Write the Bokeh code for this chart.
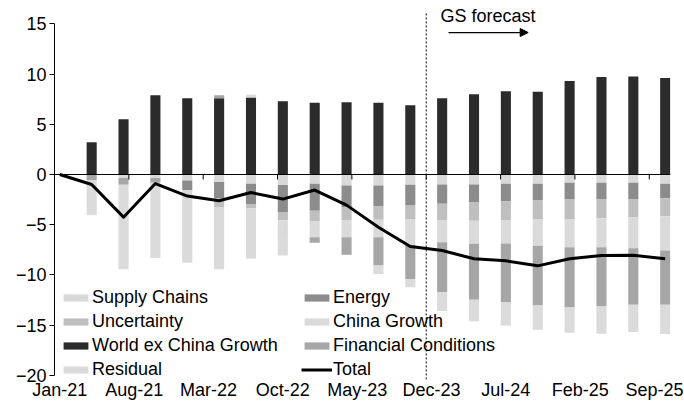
import pandas as pd
from bokeh.plotting import figure
from bokeh.models import (ColumnDataSource, FixedTicker, Span, Label, Arrow,
                          NormalHead, Legend, LegendItem)
from bokeh.embed import file_html
from bokeh.resources import INLINE

# ---------------- data ----------------
periods = ["Jan-21", "Apr-21", "Jul-21", "Oct-21", "Jan-22", "Apr-22", "Jul-22",
           "Oct-22", "Jan-23", "Apr-23", "Jul-23", "Oct-23", "Jan-24", "Apr-24",
           "Jul-24", "Oct-24", "Jan-25", "Apr-25", "Jul-25", "Oct-25"]

supply_chains = [0, 0, -0.35, -0.35, -0.6, -0.75, -0.93, -1.05, -0.93, -1.1,
                 -1.1, -1.03, -1.0, -1.0, -0.93, -0.93, -0.83, -0.83, -0.83, -0.93]
energy = [0, 0, 0, 0, -0.95, -1.65, -2.0, -2.68, -2.67, -2.2,
          -2.1, -2.0, -1.92, -1.8, -1.73, -1.66, -1.66, -1.66, -1.6, -1.43]
uncertainty = [0, 0, 0, 0, 0, -0.85, -0.43, -0.84, -1.08, -1.28,
               -1.3, -1.4, -1.66, -1.8, -1.92, -1.9, -1.99, -1.86, -1.83, -1.79]
china_growth = [0, 0, 0, 0, -7.25, -6.2, -5.0, -1.66, -1.56, -1.66,
                -1.74, -2.6, -2.18, -2.3, -2.3, -2.6, -2.76, -2.89, -3.08, -3.42]
world_ex_china = [0, 3.2, 5.5, 7.9, 7.6, 7.6, 7.67, 7.3, 7.15, 7.2,
                  7.15, 6.9, 7.6, 8.0, 8.3, 8.25, 9.3, 9.7, 9.75, 9.6]
financial_conditions = [0, -0.55, -0.68, -0.47, 0, 0.3, 0, 0, -0.56, -1.75,
                        -2.82, -3.38, -4.96, -5.57, -5.82, -5.97, -6.0, -5.87, -5.64, -5.41]
residual = [0, -3.5, -8.4, -7.5, 0, 0, 0.27, -1.84, 0, 0,
            -0.84, -0.83, -1.88, -2.16, -2.34, -2.4, -2.52, -2.76, -2.72, -2.92]
total = [0, -1.0, -4.25, -0.9, -2.15, -2.62, -1.8, -2.45, -1.55, -3.05,
         -5.25, -7.17, -7.57, -8.4, -8.6, -9.1, -8.4, -8.07, -8.05, -8.4]

tick_labels = ["Jan-21", "Aug-21", "Mar-22", "Oct-22", "May-23", "Dec-23",
               "Jul-24", "Feb-25", "Sep-25"]
forecast_start = "Dec-23"
y_ticks = [-20, -15, -10, -5, 0, 5, 10, 15]

series = [
    ("Supply Chains", supply_chains, "#d9d9d9"),
    ("Energy", energy, "#8c8c8c"),
    ("Uncertainty", uncertainty, "#bfbfbf"),
    ("China Growth", china_growth, "#dadada"),
    ("World ex China Growth", world_ex_china, "#2b2b2b"),
    ("Financial Conditions", financial_conditions, "#a6a6a6"),
    ("Residual", residual, "#dbdbdb"),
]

# ---------------- helpers ----------------
origin = pd.to_datetime(periods[0], format="%b-%y")


def month_index(lbl):
    d = pd.to_datetime(lbl, format="%b-%y")
    return (d.year - origin.year) * 12 + (d.month - origin.month)


x = [month_index(s) for s in periods]
label_idx = [month_index(s) for s in tick_labels]
n_months = month_index(periods[-1]) + 1

FONT = "Liberation Sans"
Y_LO, Y_HI = -20.42, 17.33

p = figure(frame_width=616, frame_height=379,
           x_range=(-0.5, n_months - 0.5), y_range=(Y_LO, Y_HI),
           output_backend="svg", toolbar_location=None, title=None,
           min_border_left=54, min_border_right=14, min_border_top=0,
           min_border_bottom=0)
p.background_fill_color = "white"
p.border_fill_color = "white"
p.outline_line_color = None
p.xgrid.visible = False
p.ygrid.visible = False

# stacked bars (positive and negative stacked separately, in series order)
pos = [0.0] * len(x)
neg = [0.0] * len(x)
renderers = {}
for name, vals, color in series:
    bottoms, tops = [], []
    for i, v in enumerate(vals):
        if v >= 0:
            b = pos[i]
            pos[i] += v
        else:
            b = neg[i]
            neg[i] += v
        bottoms.append(b)
        tops.append(b + v)
    src = ColumnDataSource(dict(x=x, bottom=bottoms, top=tops))
    renderers[name] = p.vbar(x="x", bottom="bottom", top="top", width=0.95,
                             source=src, fill_color=color, line_color=None)

# zero axis line with tick marks at the month boundaries
p.add_layout(Span(location=0, dimension="width", line_color="black", line_width=1))
bounds = [i - 0.5 for i in label_idx]
p.segment(x0=bounds, y0=[0] * len(bounds), x1=bounds, y1=[-0.5] * len(bounds),
          line_color="black", line_width=1)

# total line
renderers["Total"] = p.line(x=x, y=total, line_color="black", line_width=3,
                            line_join="round")

# forecast divider + annotation
fx = month_index(forecast_start) - 0.5
p.segment(x0=[fx], y0=[16.04], x1=[fx], y1=[Y_LO],
          line_color="black", line_width=1, line_dash="2 2")
p.add_layout(Label(x=35.85, y=15.74, text="GS forecast", text_font=FONT,
                   text_font_size="18px", text_color="black",
                   text_baseline="alphabetic", text_align="left"))
p.add_layout(Arrow(end=NormalHead(size=8, fill_color="black", line_color="black"),
                   x_start=36.6, y_start=14.14, x_end=44.1, y_end=14.14,
                   line_color="black", line_width=1.2))

# y axis
yax = p.yaxis[0]
yax.ticker = FixedTicker(ticks=y_ticks)
yax.bounds = (min(y_ticks), max(y_ticks))
yax.axis_line_color = "black"
yax.major_tick_line_color = "black"
yax.major_tick_out = 5
yax.major_tick_in = 0
yax.minor_tick_line_color = None
yax.major_label_standoff = 3
yax.major_label_text_font = FONT
yax.major_label_text_font_size = "18px"
yax.major_label_text_color = "black"

# x axis (labels only, at the bottom)
xax = p.xaxis[0]
xax.ticker = FixedTicker(ticks=label_idx)
xax.major_label_overrides = {i: s for i, s in zip(label_idx, tick_labels)}
xax.axis_line_color = None
xax.major_tick_line_color = None
xax.minor_tick_line_color = None
xax.major_tick_out = 0
xax.major_tick_in = 0
xax.major_label_standoff = 0
xax.major_label_text_font = FONT
xax.major_label_text_font_size = "18px"
xax.major_label_text_color = "black"

# legend: 2 columns x 4 rows (column-major order)
order = ["Supply Chains", "Uncertainty", "World ex China Growth", "Residual",
         "Energy", "China Growth", "Financial Conditions", "Total"]
legend = Legend(items=[LegendItem(label=n, renderers=[renderers[n]]) for n in order],
                location=(6, -1), orientation="vertical", nrows=4,
                glyph_width=31, glyph_height=9, label_standoff=1,
                label_width=206, label_height=20, spacing=3,
                padding=0, margin=0, border_line_color=None,
                background_fill_alpha=0,
                label_text_font=FONT, label_text_font_size="18px",
                label_text_color="black")
p.add_layout(legend)

open("out.html", "w").write(file_html(p, INLINE))
